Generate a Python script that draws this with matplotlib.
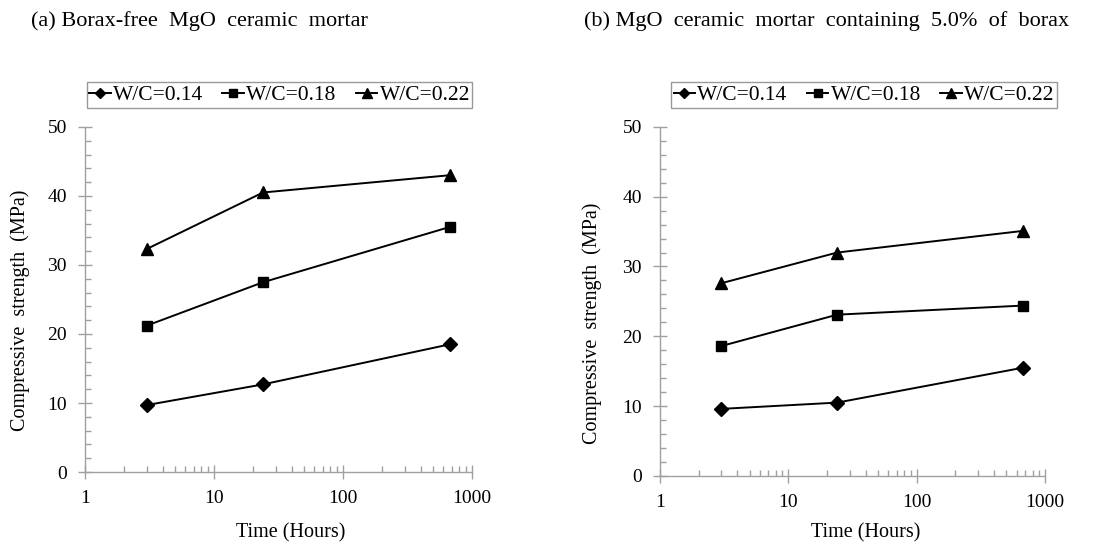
import matplotlib
matplotlib.use("Agg")
import matplotlib.pyplot as plt
from matplotlib.ticker import LogLocator, MultipleLocator, FixedLocator, NullFormatter

plt.rcParams['font.family'] = ['Liberation Serif', 'DejaVu Serif']

time_hours = [3, 24, 672]
series_labels = ["W/C=0.14", "W/C=0.18", "W/C=0.22"]
markers = ["D", "s", "^"]

strength_a = {
    "W/C=0.14": [9.7, 12.7, 18.5],
    "W/C=0.18": [21.2, 27.5, 35.5],
    "W/C=0.22": [32.3, 40.5, 43.0],
}
strength_b = {
    "W/C=0.14": [9.6, 10.5, 15.5],
    "W/C=0.18": [18.6, 23.1, 24.4],
    "W/C=0.22": [27.6, 32.0, 35.1],
}
titles = ["(a) Borax-free  MgO  ceramic  mortar",
          "(b) MgO  ceramic  mortar  containing  5.0%  of  borax"]
y_ticks = [0, 10, 20, 30, 40, 50]
x_ticks = [1, 10, 100, 1000]

fig = plt.figure(figsize=(10.94, 5.47), dpi=100)
ax_rects = [[0.0777, 0.137, 0.3537, 0.631], [0.6033, 0.130, 0.352, 0.638]]
legend_pos = [(0.2555, 0.8263), (0.7898, 0.8263)]
title_pos = [(0.028, 0.962), (0.534, 0.962)]
xlabel_coords = [(0.532, -0.177), (0.535, -0.163)]
ylabel_coords = [(-0.168, 0.47), (-0.177, 0.438)]
gray = "#a0a0a0"

for i, (data, title) in enumerate(zip([strength_a, strength_b], titles)):
    ax = fig.add_axes(ax_rects[i])
    handles = []
    for lab, m in zip(series_labels, markers):
        ms = {"D": 7, "s": 7, "^": 9}[m]
        h, = ax.plot(time_hours, data[lab], color="black", lw=1.4,
                     marker=m, markersize=ms, label=lab)
        handles.append(h)
    ax.set_xscale("log")
    ax.set_xlim(1, 1000)
    ax.set_ylim(0, 50)
    ax.xaxis.set_major_locator(FixedLocator(x_ticks))
    ax.set_xticklabels([str(t) for t in x_ticks])
    ax.xaxis.set_minor_locator(LogLocator(base=10, subs=range(2, 10)))
    ax.xaxis.set_minor_formatter(NullFormatter())
    ax.yaxis.set_major_locator(FixedLocator(y_ticks))
    ax.yaxis.set_minor_locator(MultipleLocator(2))
    for s in ["top", "right"]:
        ax.spines[s].set_visible(False)
    for s in ["left", "bottom"]:
        ax.spines[s].set_color(gray)
        ax.spines[s].set_linewidth(1.0)
    ax.tick_params(which="major", direction="inout", length=10, width=1.0,
                   color=gray, labelsize=14, labelcolor="black")
    ax.tick_params(which="minor", direction="in", length=4, width=1.0, color=gray)
    ax.tick_params(axis="y", which="major", pad=8)
    ax.tick_params(axis="x", which="major", pad=8)
    ax.set_xlabel("Time (Hours)", fontsize=14.5, va="center")
    ax.xaxis.set_label_coords(*xlabel_coords[i])
    ax.set_ylabel("Compressive  strength  (MPa)", fontsize=14.5, va="center")
    ax.yaxis.set_label_coords(*ylabel_coords[i])
    fig.text(title_pos[i][0], title_pos[i][1], title, fontsize=16,
             ha="left", va="center")
    leg = fig.legend(handles=handles, loc="center", bbox_to_anchor=legend_pos[i],
                     ncol=3, fontsize=15.5, frameon=True, fancybox=False,
                     handlelength=1.0, handletextpad=0.1, columnspacing=0.9,
                     borderpad=0.12, borderaxespad=0, markerscale=0.75)
    leg.get_frame().set_edgecolor("#808080")
    leg.get_frame().set_linewidth(1.0)

fig.savefig("out.png", dpi=100)
